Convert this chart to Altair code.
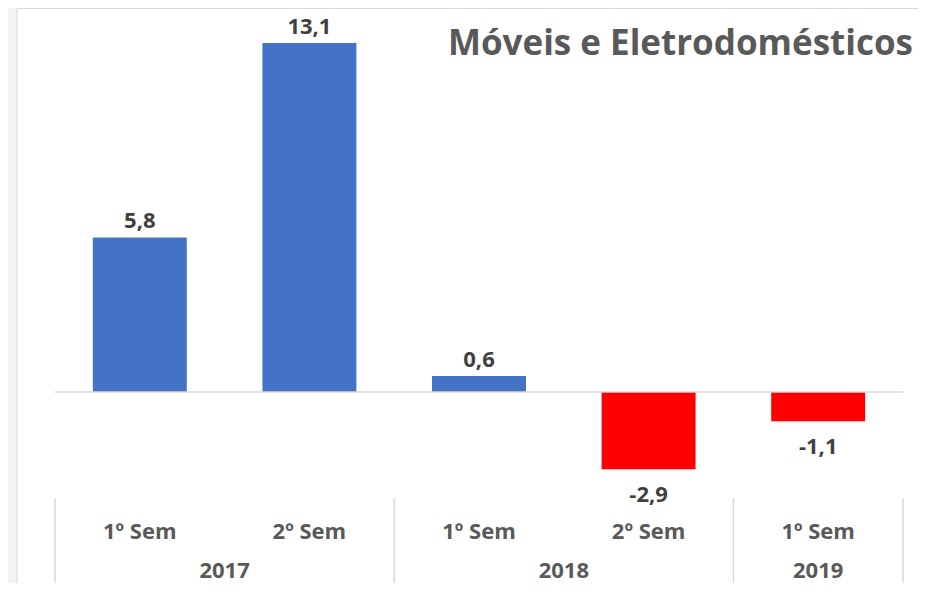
import altair as alt
import pandas as pd

years = ["2017", "2017", "2018", "2018", "2019"]
semesters = ["1º Sem", "2º Sem", "1º Sem", "2º Sem", "1º Sem"]
values = [5.8, 13.1, 0.6, -2.9, -1.1]
title_text = "Móveis e Eletrodomésticos"

df = pd.DataFrame({"year": years, "sem": semesters, "value": values})
df["idx"] = range(len(df))
df["center"] = df["idx"] + 0.5
df["left"] = df["center"] - 0.277
df["right"] = df["center"] + 0.277
df["label"] = df["value"].map(lambda v: f"{v:.1f}".replace(".", ","))
df["sign"] = df["value"].map(lambda v: "pos" if v >= 0 else "neg")

grp = df.groupby("year").agg(start=("idx", "min"), end=("idx", "max")).reset_index()
grp["end"] = grp["end"] + 1
grp["mid"] = (grp["start"] + grp["end"]) / 2
bounds = sorted(set(grp["start"].tolist() + grp["end"].tolist()))
bdf = pd.DataFrame({"b": bounds})

W, H = 848, 575
xs = alt.Scale(domain=[0, 5], nice=False, zero=False)
ys = alt.Scale(domain=[-7.17, 14.41], nice=False, zero=False)
FONT = "Open Sans"

panel = alt.Chart(pd.DataFrame({"a": [0]})).mark_rect(
    fill="white", stroke="#d9d9d9", strokeWidth=1
).encode(x=alt.value(-38), x2=alt.value(864), y=alt.value(0.5), y2=alt.value(600))

base = alt.Chart(df)

bars = base.mark_bar().encode(
    x=alt.X("left:Q", scale=xs, axis=None),
    x2="right:Q",
    y=alt.Y("value:Q", scale=ys, axis=None),
    y2=alt.datum(0),
    color=alt.Color("sign:N", scale=alt.Scale(domain=["pos", "neg"], range=["#4472C4", "#FF0000"]), legend=None),
)

zero = alt.Chart(pd.DataFrame({"z": [0]})).mark_rule(color="#d9d9d9", strokeWidth=1.5).encode(
    y=alt.Y("z:Q", scale=ys, axis=None), x=alt.value(0), x2=alt.value(W)
)

lab_pos = base.transform_filter("datum.value >= 0").mark_text(
    baseline="alphabetic", dy=-9, font=FONT, fontSize=22, fontWeight="bold", color="#404040"
).encode(x=alt.X("center:Q", scale=xs), y=alt.Y("value:Q", scale=ys), text="label:N")

lab_neg = base.transform_filter("datum.value < 0").mark_text(
    baseline="alphabetic", dy=33, font=FONT, fontSize=22, fontWeight="bold", color="#404040"
).encode(x=alt.X("center:Q", scale=xs), y=alt.Y("value:Q", scale=ys), text="label:N")

sem_lab = base.mark_text(
    baseline="middle", font=FONT, fontSize=22, fontWeight="bold", color="#595959"
).encode(x=alt.X("center:Q", scale=xs), y=alt.value(524), text="sem:N")

year_lab = alt.Chart(grp).mark_text(
    baseline="middle", font=FONT, fontSize=22, fontWeight="bold", color="#595959"
).encode(x=alt.X("mid:Q", scale=xs), y=alt.value(563), text="year:N")

seps = alt.Chart(bdf).mark_rule(color="#d9d9d9", strokeWidth=1.5).encode(
    x=alt.X("b:Q", scale=xs), y=alt.value(490), y2=alt.value(H)
)

title = alt.Chart(pd.DataFrame({"t": [title_text]})).mark_text(
    align="right", baseline="middle", font=FONT, fontSize=35, fontWeight="bold", color="#595959"
).encode(x=alt.value(858), y=alt.value(36), text="t:N")

chart = alt.layer(panel, bars, zero, lab_pos, lab_neg, sem_lab, year_lab, seps, title).properties(
    width=W, height=H,
    autosize=alt.AutoSizeParams(type="none"),
    padding={"left": 47, "top": 0, "right": 15, "bottom": 0},
    background="#f3f3f3",
).configure_view(stroke=None)

chart.save("out.html", embed_options={"renderer": "svg", "actions": False})
